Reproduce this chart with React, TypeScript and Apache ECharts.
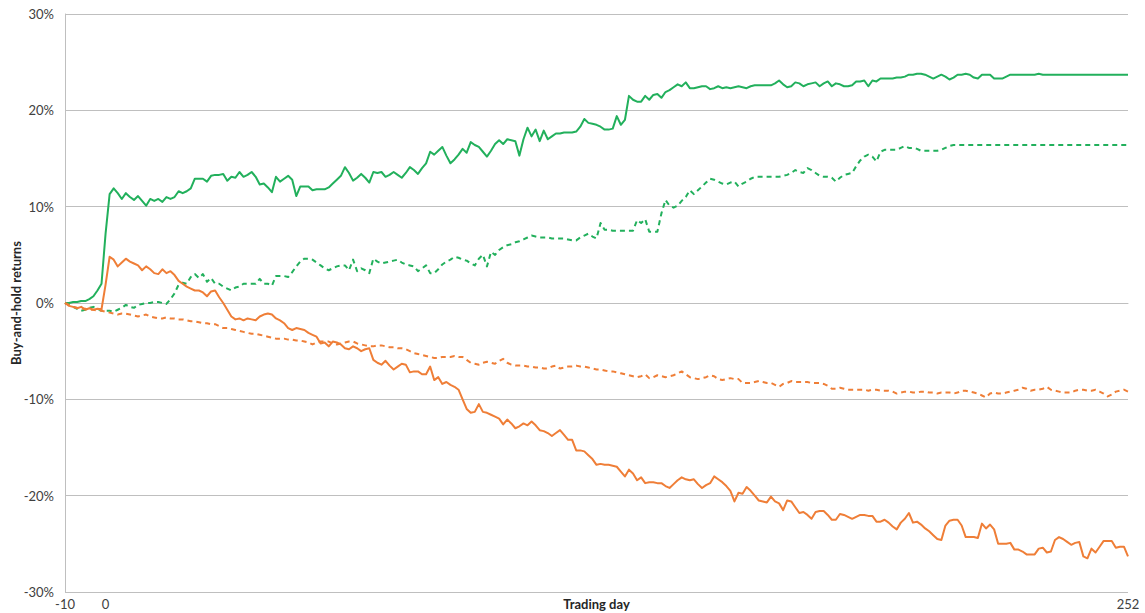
import React, { useEffect, useRef } from "react";
import * as echarts from "echarts";

const FIRST_DAY = -10;
const LAST_DAY = 252;
const SHOWN_DAY_LABELS = ["-10", "0", "252"];

// Solid green (%), days -10..252
const greenSolid = [
  0.0, 0.0, 0.1, 0.1, 0.2, 0.2, 0.4, 0.7, 1.3, 2.0,
  7.2, 11.3, 11.9, 11.4, 10.8, 11.4, 11.0, 10.7, 11.1, 10.6,
  10.1, 10.8, 10.6, 10.8, 10.5, 11.0, 10.8, 11.0, 11.6, 11.4,
  11.6, 11.9, 12.9, 12.9, 12.9, 12.6, 13.2, 13.3, 13.3, 13.4,
  12.7, 13.1, 13.0, 13.6, 13.1, 13.3, 13.6, 13.1, 12.3, 12.4,
  12.0, 11.5, 13.1, 12.6, 12.9, 13.2, 12.8, 11.1, 12.1, 12.1,
  12.1, 11.7, 11.8, 11.8, 11.8, 12.0, 12.4, 12.8, 13.2, 14.1,
  13.5, 12.7, 13.0, 13.4, 13.0, 12.5, 13.6, 13.5, 13.6, 13.1,
  13.3, 13.6, 13.3, 13.0, 13.5, 14.1, 13.8, 13.4, 14.0, 14.5,
  15.7, 15.4, 15.8, 16.2, 15.3, 14.5, 14.9, 15.4, 16.0, 15.6,
  16.7, 16.4, 16.2, 15.7, 15.2, 15.8, 16.5, 16.9, 16.5, 17.0,
  16.9, 16.8, 15.3, 17.0, 18.2, 17.3, 18.0, 16.8, 17.9, 17.0,
  17.3, 17.6, 17.6, 17.7, 17.7, 17.7, 17.8, 18.3, 19.1, 18.7,
  18.6, 18.5, 18.3, 18.0, 18.0, 18.1, 19.4, 18.5, 19.0, 21.5,
  21.1, 20.9, 20.9, 21.5, 21.1, 21.6, 21.7, 21.3, 21.9, 22.1,
  22.4, 22.7, 22.5, 22.9, 22.3, 22.3, 22.4, 22.5, 22.5, 22.2,
  22.3, 22.5, 22.3, 22.4, 22.3, 22.4, 22.5, 22.4, 22.3, 22.5,
  22.6, 22.6, 22.6, 22.6, 22.6, 22.8, 23.1, 22.7, 22.4, 22.5,
  22.9, 22.8, 22.5, 22.7, 22.8, 22.9, 22.5, 22.8, 23.0, 22.5,
  22.8, 22.7, 22.5, 22.5, 22.6, 23.0, 23.0, 23.1, 22.5, 23.1,
  23.0, 23.3, 23.3, 23.3, 23.3, 23.4, 23.4, 23.5, 23.7, 23.7,
  23.8, 23.8, 23.7, 23.5, 23.3, 23.5, 23.7, 23.5, 23.2, 23.4,
  23.7, 23.7, 23.8, 23.7, 23.4, 23.3, 23.7, 23.7, 23.7, 23.3,
  23.3, 23.3, 23.5, 23.7, 23.7, 23.7, 23.7, 23.7, 23.7, 23.7,
  23.8, 23.7, 23.7, 23.7, 23.7, 23.7, 23.7, 23.7, 23.7, 23.7,
  23.7, 23.7, 23.7, 23.7, 23.7, 23.7, 23.7, 23.7, 23.7, 23.7,
  23.7, 23.7, 23.7,
];

// Dashed green (%)
const greenDashed = [
  0.0, -0.2, -0.4, -0.6, -0.8, -0.7, -0.5, -0.4, -0.6, -0.8,
  -0.8, -0.8, -0.9, -0.7, -0.5, -0.2, -0.4, -0.5, -0.2, -0.1,
  0.0, 0.0, 0.1, 0.1, 0.0, -0.1, 0.4, 1.0, 1.9, 2.1,
  2.0, 2.7, 3.0, 2.6, 3.0, 2.2, 2.6, 2.0, 2.0, 1.7,
  1.5, 1.3, 1.6, 1.7, 2.0, 2.0, 2.0, 2.0, 2.5, 2.0,
  2.0, 1.8, 2.8, 2.8, 2.8, 2.7, 3.2, 3.8, 4.3, 4.6,
  4.6, 4.5, 4.2, 3.9, 3.6, 3.4, 3.6, 3.8, 3.9, 3.9,
  3.4, 4.5, 3.3, 3.6, 3.4, 3.1, 4.6, 4.3, 4.1, 4.2,
  4.3, 4.4, 4.5, 4.2, 4.0, 3.9, 3.8, 3.3, 3.6, 3.9,
  3.1, 3.1, 3.5, 4.0, 4.3, 4.5, 4.8, 4.7, 4.5, 4.4,
  4.1, 3.9, 4.6, 5.0, 3.8, 5.3, 5.0, 5.5, 5.8, 6.0,
  6.1, 6.3, 6.4, 6.6, 6.8, 7.0, 6.9, 6.8, 6.8, 6.8,
  6.7, 6.7, 6.7, 6.7, 6.6, 6.5, 6.5, 6.8, 7.0, 7.2,
  6.9, 6.7, 8.3, 7.6, 7.6, 7.5, 7.5, 7.5, 7.5, 7.5,
  7.5, 8.6, 8.3, 8.7, 7.4, 7.4, 7.4, 9.3, 10.7, 10.1,
  9.9, 10.1, 10.6, 11.0, 11.7, 11.3, 11.7, 12.1, 12.5, 12.9,
  12.8, 12.6, 12.4, 12.3, 12.5, 12.6, 12.1, 12.4, 12.6, 12.9,
  13.1, 13.1, 13.1, 13.1, 13.1, 13.1, 13.1, 13.2, 13.3, 13.5,
  13.8, 13.6, 13.5, 14.0, 13.8, 13.5, 13.2, 13.1, 13.1, 13.0,
  12.6, 13.0, 13.3, 13.4, 13.5, 14.2, 14.8, 15.2, 15.4, 15.2,
  14.7, 15.7, 15.9, 15.9, 15.9, 15.9, 16.1, 16.3, 16.1, 16.1,
  16.0, 15.8, 15.8, 15.8, 15.8, 15.8, 15.9, 16.1, 16.3, 16.4,
  16.4, 16.4, 16.4, 16.4, 16.4, 16.4, 16.4, 16.4, 16.4, 16.4,
  16.4, 16.4, 16.4, 16.4, 16.4, 16.4, 16.4, 16.4, 16.4, 16.4,
  16.4, 16.4, 16.4, 16.4, 16.4, 16.4, 16.4, 16.4, 16.4, 16.4,
  16.4, 16.4, 16.4, 16.4, 16.4, 16.4, 16.4, 16.4, 16.4, 16.4,
  16.4, 16.4, 16.4,
];

// Solid orange (%)
const orangeSolid = [
  0.0, -0.3, -0.4, -0.55, -0.4, -0.7, -0.55, -0.7, -0.6, -0.65,
  1.9, 4.8, 4.5, 3.8, 4.2, 4.6, 4.3, 4.1, 3.9, 3.4,
  3.8, 3.5, 3.1, 3.0, 3.5, 3.1, 3.3, 2.9, 2.3, 2.0,
  1.7, 1.5, 1.3, 1.3, 1.1, 0.7, 1.2, 1.3, 0.6, 0.0,
  -0.7, -1.4, -1.7, -1.6, -1.8, -1.6, -1.7, -1.8, -1.4, -1.2,
  -1.1, -1.2, -1.6, -1.8, -2.1, -2.6, -2.8, -2.6, -2.7, -2.8,
  -3.1, -3.3, -3.5, -4.2, -4.1, -4.5, -4.0, -4.1, -4.3, -4.7,
  -4.8, -4.5, -4.7, -5.0, -4.8, -4.7, -5.9, -6.2, -6.4, -6.0,
  -6.5, -6.9, -6.6, -6.3, -6.4, -7.2, -7.1, -7.1, -7.4, -7.4,
  -6.6, -8.0, -7.7, -8.4, -8.2, -8.5, -8.7, -9.0, -10.0, -11.0,
  -11.4, -11.3, -10.5, -11.3, -11.4, -11.6, -11.8, -12.0, -12.6, -12.1,
  -12.5, -13.0, -12.8, -12.5, -12.7, -12.3, -12.7, -13.2, -13.3, -13.5,
  -13.8, -13.5, -13.2, -13.7, -14.2, -14.2, -15.3, -15.3, -15.4, -15.8,
  -16.2, -16.8, -16.7, -16.8, -16.8, -16.9, -17.0, -17.5, -18.0, -17.3,
  -17.7, -18.4, -18.1, -18.7, -18.6, -18.6, -18.7, -18.7, -19.0, -19.2,
  -18.8, -18.4, -18.1, -18.3, -18.4, -18.3, -18.8, -19.2, -18.9, -18.7,
  -18.0, -18.3, -18.6, -19.0, -19.5, -20.6, -19.7, -19.8, -19.1, -19.5,
  -20.0, -20.5, -20.6, -20.7, -20.1, -20.6, -20.8, -21.5, -20.5, -20.6,
  -21.2, -21.8, -21.7, -22.0, -22.4, -21.7, -21.6, -21.6, -22.0, -22.5,
  -22.5, -21.9, -22.0, -22.2, -22.4, -22.2, -22.0, -22.0, -22.1, -22.1,
  -22.7, -22.7, -22.5, -22.8, -23.2, -23.5, -22.8, -22.4, -21.8, -22.8,
  -22.7, -23.0, -23.4, -23.7, -24.1, -24.5, -24.6, -23.1, -22.6, -22.5,
  -22.5, -23.1, -24.3, -24.3, -24.3, -24.4, -22.9, -23.4, -23.0, -23.5,
  -25.0, -25.0, -25.0, -24.9, -25.6, -25.6, -25.8, -26.1, -26.1, -26.1,
  -25.5, -25.4, -25.9, -25.8, -24.6, -24.3, -24.5, -24.8, -25.1, -24.9,
  -24.8, -26.3, -26.5, -25.5, -25.9, -25.3, -24.7, -24.7, -24.7, -25.4,
  -25.3, -25.3, -26.3,
];

// Dashed orange (%)
const orangeDashed = [
  0.0, -0.2, -0.4, -0.5, -0.55, -0.6, -0.7, -0.7, -0.8, -0.8,
  -0.9, -1.0, -1.1, -1.2, -1.1, -1.1, -1.2, -1.3, -1.4, -1.3,
  -1.2, -1.4, -1.5, -1.6, -1.6, -1.5, -1.6, -1.6, -1.7, -1.7,
  -1.8, -1.9, -1.9, -2.0, -2.1, -2.1, -2.2, -2.2, -2.4, -2.6,
  -2.6, -2.7, -2.8, -2.9, -3.0, -3.1, -3.2, -3.2, -3.3, -3.4,
  -3.5, -3.6, -3.7, -3.7, -3.7, -3.8, -3.8, -3.9, -3.9, -4.0,
  -4.1, -4.3, -4.1, -4.0, -4.0, -4.0, -4.2, -4.3, -4.2, -4.1,
  -4.0, -4.0, -4.2, -4.3, -4.4, -4.5, -4.5, -4.4, -4.4, -4.5,
  -4.6, -4.6, -4.7, -4.7, -4.8, -5.0, -5.2, -5.3, -5.4, -5.5,
  -5.6, -5.7, -5.7, -5.6, -5.6, -5.6, -5.5, -5.6, -5.6, -5.9,
  -6.2, -6.3, -6.4, -6.2, -6.1, -6.2, -6.3, -6.0, -5.8, -6.2,
  -6.4, -6.5, -6.5, -6.5, -6.6, -6.6, -6.7, -6.7, -6.8, -6.8,
  -6.6, -6.5, -6.8, -6.7, -6.6, -6.6, -6.5, -6.6, -6.6, -6.7,
  -6.8, -6.9, -6.9, -7.0, -7.1, -7.1, -7.2, -7.3, -7.4, -7.5,
  -7.6, -7.7, -7.6, -7.4, -7.8, -7.7, -7.5, -7.6, -7.7, -7.6,
  -7.5, -7.3, -7.1, -7.4, -7.7, -7.8, -7.9, -7.8, -7.7, -7.5,
  -7.6, -7.9, -8.0, -7.9, -7.8, -7.9, -7.9, -8.3, -8.3, -8.3,
  -8.2, -8.1, -8.2, -8.3, -8.3, -8.5, -8.7, -8.4, -8.3, -8.1,
  -8.2, -8.2, -8.2, -8.2, -8.3, -8.3, -8.3, -8.4, -8.6, -8.9,
  -8.9, -8.8, -8.9, -9.0, -9.0, -9.0, -9.0, -9.0, -9.1, -9.0,
  -9.0, -9.1, -9.1, -9.1, -9.2, -9.4, -9.3, -9.2, -9.2, -9.3,
  -9.3, -9.2, -9.2, -9.3, -9.3, -9.4, -9.3, -9.3, -9.3, -9.4,
  -9.3, -9.1, -9.1, -9.2, -9.3, -9.4, -9.6, -9.8, -9.4, -9.3,
  -9.4, -9.4, -9.3, -9.2, -9.1, -9.0, -8.8, -8.9, -9.1, -9.0,
  -9.0, -8.9, -8.7, -9.0, -9.1, -9.2, -9.3, -9.3, -9.3, -9.1,
  -9.0, -9.0, -9.1, -9.1, -9.0, -9.2, -9.4, -9.7, -9.5, -9.2,
  -9.1, -9.0, -9.2,
];

const GREEN = "#22B05C";
const ORANGE = "#EF7E37";

export default function App() {
  const ref = useRef<HTMLDivElement>(null);

  useEffect(() => {
    if (!ref.current) return;
    const chart = echarts.init(ref.current, undefined, { renderer: "svg" });
    const days: string[] = [];
    for (let d = FIRST_DAY; d <= LAST_DAY; d++) days.push(String(d));

    const font = "Lato, 'Open Sans', 'DejaVu Sans', sans-serif";
    const mk = (name: string, data: number[], color: string, dashed: boolean) => ({
      name,
      type: "line",
      data,
      symbol: "none",
      smooth: false,
      lineStyle: {
        color,
        width: 2,
        type: dashed ? [5, 4] : "solid",
        cap: "butt",
        join: "round",
      },
      itemStyle: { color },
      emphasis: { disabled: true },
    });

    chart.setOption({
      animation: false,
      backgroundColor: "#ffffff",
      textStyle: { fontFamily: font },
      grid: {
        left: 65,
        right: 17,
        top: 14,
        bottom: 21,
        containLabel: false,
        outerBoundsMode: "none",
      },
      xAxis: {
        type: "category",
        data: days,
        boundaryGap: false,
        name: "Trading day",
        nameLocation: "middle",
        nameGap: 5,
        nameMoveOverlap: false,
        nameTextStyle: {
          color: "#262626",
          fontWeight: "bold",
          fontSize: 13,
          fontFamily: font,
          verticalAlign: "top",
        },
        axisLine: { show: true, lineStyle: { color: "#BFBFBF", width: 1 } },
        axisTick: { show: false },
        axisLabel: {
          color: "#404040",
          fontSize: 13,
          margin: 5,
          fontFamily: font,
          interval: (_i: number, v: string) => SHOWN_DAY_LABELS.includes(v),
          showMinLabel: true,
          showMaxLabel: true,
        },
        splitLine: { show: false },
      },
      yAxis: {
        type: "value",
        min: -30,
        max: 30,
        interval: 10,
        name: "Buy-and-hold returns",
        nameLocation: "middle",
        nameGap: 43,
        nameRotate: 90,
        nameMoveOverlap: false,
        nameTextStyle: {
          color: "#262626",
          fontWeight: "bold",
          fontSize: 13,
          fontFamily: font,
        },
        axisLine: { show: true, lineStyle: { color: "#BFBFBF", width: 1 } },
        axisTick: { show: false },
        axisLabel: {
          color: "#404040",
          fontSize: 13,
          margin: 11,
          fontFamily: font,
          formatter: (v: number) => `${v}%`,
        },
        splitLine: { show: true, lineStyle: { color: "#BFBFBF", width: 1 } },
      },
      series: [
        mk("Green (solid)", greenSolid, GREEN, false),
        mk("Green (dashed)", greenDashed, GREEN, true),
        mk("Orange (solid)", orangeSolid, ORANGE, false),
        mk("Orange (dashed)", orangeDashed, ORANGE, true),
      ],
    });

    return () => chart.dispose();
  }, []);

  return (
    <div
      ref={ref}
      style={{ position: "fixed", left: 0, top: 0, width: 1145, height: 613, background: "#fff" }}
    />
  );
}
